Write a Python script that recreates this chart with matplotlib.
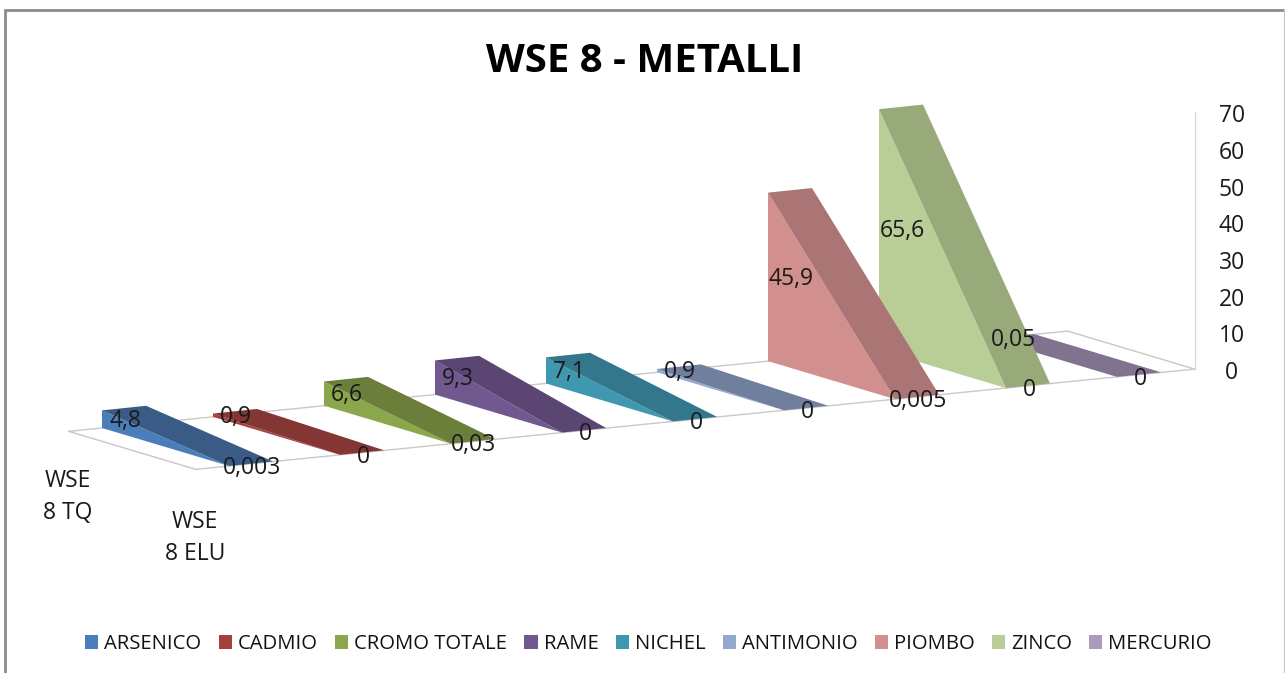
import matplotlib
matplotlib.use("Agg")
import matplotlib.pyplot as plt
from matplotlib.patches import Polygon, Patch

plt.rcParams['font.family'] = ['Open Sans', 'DejaVu Sans']

title = "WSE 8 - METALLI"
metals = ["ARSENICO", "CADMIO", "CROMO TOTALE", "RAME", "NICHEL",
          "ANTIMONIO", "PIOMBO", "ZINCO", "MERCURIO"]
wse_tq = [4.8, 0.9, 6.6, 9.3, 7.1, 0.9, 45.9, 65.6, 0.05]
wse_elu = [0.003, 0, 0.03, 0, 0, 0, 0.005, 0, 0]
depth_labels = ["WSE\n8 TQ", "WSE\n8 ELU"]
z_ticks = [0, 10, 20, 30, 40, 50, 60, 70]

front_colors = ["#4A7EBB", "#A5403D", "#8AA84B", "#71588F", "#3F97B0",
                "#93A9CF", "#D18F8E", "#B9CD96", "#A99BBD"]
top_colors = ["#3A5B85", "#833634", "#6B7F3A", "#5A4573", "#33778C",
              "#6F7F9D", "#AB7575", "#98A97A", "#7F7390"]

# oblique projection: (category, depth, value) -> pixel position
ORIGIN = (102.0, 428.0)
CAT_STEP = (111.0, -11.14)
BAR_W = (44.0, -4.6)
DEPTH = (127.0, 38.0)
Z_SCALE = 257 / 70
TEXT_SIZE = 16.5


def project(cat, depth, value=0.0, across=0.0):
    x = ORIGIN[0] + cat * CAT_STEP[0] + across * BAR_W[0] + depth * DEPTH[0]
    y = ORIGIN[1] + cat * CAT_STEP[1] + across * BAR_W[1] + depth * DEPTH[1] - value * Z_SCALE
    return x, y


def fmt(v):
    return ("%g" % v).replace(".", ",")


fig = plt.figure(figsize=(12.85, 6.73), dpi=100, facecolor="white")
ax = fig.add_axes([0, 0, 1, 1])
ax.set_xlim(0, 1285)
ax.set_ylim(673, 0)
ax.axis("off")

# chart frame
ax.plot([4.5, 4.5, 1283.5], [673, 9.5, 9.5], color="#8C8C8C", lw=2.0,
        solid_joinstyle="miter", zorder=1)
ax.plot([1283.5, 1283.5], [9, 673], color="#C8C8C8", lw=0.8, zorder=1)

# floor and back wall
floor_a = project(-0.3, 0)
floor_b = project(-0.3, 1)
floor_c = project(8.7, 1)
floor_d = project(8.7, 0)
ax.plot(*zip(floor_a, floor_b, floor_c, floor_d, floor_a), color="#C8C8C8", lw=1.0, zorder=2)
wall_x, wall_y = floor_c
ax.plot([wall_x, wall_x], [wall_y, wall_y - z_ticks[-1] * Z_SCALE], color="#DCDCDC", lw=1.0, zorder=2)

# wedges, right to left so that the nearer ones overlap
for i in range(len(metals) - 1, -1, -1):
    z = 10 + (len(metals) - i)
    tq, elu = wse_tq[i], wse_elu[i]
    ax.add_patch(Polygon([project(i, 0, tq), project(i, 0), project(i, 1), project(i, 1, elu)],
                         closed=True, fc=front_colors[i], ec="none", zorder=z))
    ax.add_patch(Polygon([project(i, 0, tq), project(i, 0, tq, 1), project(i, 1, elu, 1), project(i, 1, elu)],
                         closed=True, fc=top_colors[i], ec="none", zorder=z))

# data labels
for i in range(len(metals)):
    x, y = project(i, 0, wse_tq[i] / 2, 0.5)
    ax.text(x + 1, y + 4, fmt(wse_tq[i]), ha="center", va="center", fontsize=TEXT_SIZE, color="#1A1A1A", zorder=40)
    x, y = project(i, 1, wse_elu[i] / 2, 0.5)
    ax.text(x + 1, y + 4, fmt(wse_elu[i]), ha="center", va="center", fontsize=TEXT_SIZE, color="#1A1A1A", zorder=40)

# value axis labels
for v in z_ticks:
    ax.text(wall_x + 37, wall_y - v * Z_SCALE + 4, str(v), ha="center", va="center",
            fontsize=TEXT_SIZE, color="#1A1A1A", zorder=40)

# depth axis labels
for d, label in enumerate(depth_labels):
    x, y = project(-0.3, d)
    ax.text(x - 1, y + 66 + 3 * d, label, ha="center", va="center", fontsize=TEXT_SIZE, color="#1A1A1A",
            linespacing=1.45, zorder=40)

ax.text(645, 61, title, ha="center", va="center", fontsize=28.9, fontweight="bold", color="#000000")

handles = [Patch(fc=c, ec="none", label=m) for c, m in zip(front_colors, metals)]
ax.legend(handles=handles, loc="center", bbox_to_anchor=(648.5, 644), bbox_transform=ax.transData,
          ncol=len(metals), frameon=False, fontsize=14.55, borderpad=0, handlelength=0.65,
          handleheight=0.65, handletextpad=0.3, columnspacing=0.85, labelcolor="#111111")

fig.savefig("out.png", dpi=100, facecolor="white")
